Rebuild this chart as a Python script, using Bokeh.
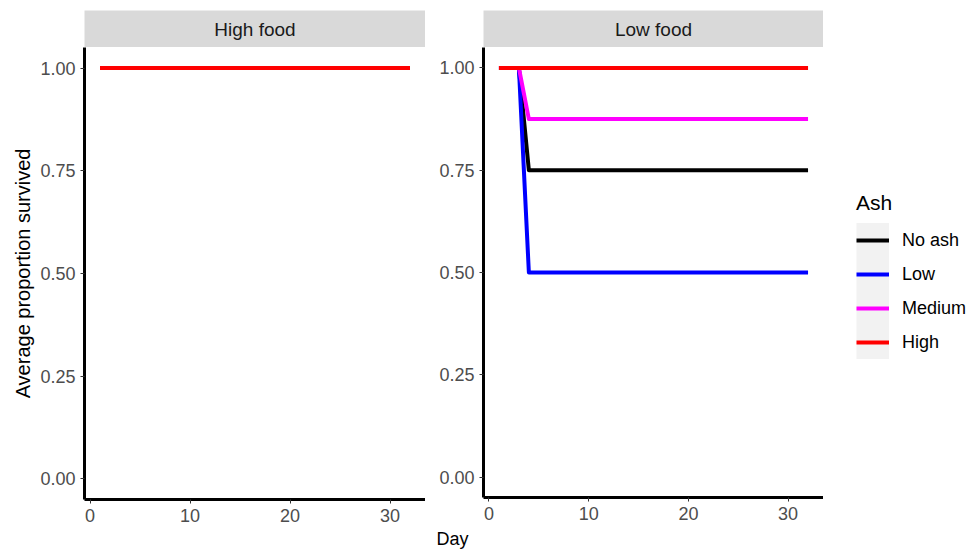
from bokeh.plotting import figure
from bokeh.layouts import row, column
from bokeh.models import Range1d, FixedTicker, Legend, LegendItem, Title, NumeralTickFormatter
from bokeh.core.properties import value
from bokeh.embed import file_html
from bokeh.resources import INLINE

# ---------------- data ----------------
facets = ["High food", "Low food"]
ash_levels = ["No ash", "Low", "Medium", "High"]
ash_colors = ["#000000", "#0000FF", "#FF00FF", "#FF0000"]

days = [1, 3, 4, 32]

high_food_no_ash = [1.0, 1.0, 1.0, 1.0]
high_food_low = [1.0, 1.0, 1.0, 1.0]
high_food_medium = [1.0, 1.0, 1.0, 1.0]
high_food_high = [1.0, 1.0, 1.0, 1.0]

low_food_no_ash = [1.0, 1.0, 0.75, 0.75]
low_food_low = [1.0, 1.0, 0.50, 0.50]
low_food_medium = [1.0, 1.0, 0.875, 0.875]
low_food_high = [1.0, 1.0, 1.0, 1.0]

x_ticks = [0, 10, 20, 30]
y_ticks = [0.0, 0.25, 0.50, 0.75, 1.0]

series = {
    "High food": [high_food_no_ash, high_food_low, high_food_medium, high_food_high],
    "Low food": [low_food_no_ash, low_food_low, low_food_medium, low_food_high],
}

FONT = "Liberation Sans"
TICK_SIZE = "18px"

# scale expansion like ggplot (5%)
xmin, xmax = min(days), max(days)
xpad = 0.05 * (xmax - xmin)
X0, X1 = xmin - xpad, xmax + xpad
Y0, Y1 = -0.05, 1.05


def make_strip(name, width, border_left):
    s = figure(width=width, height=47, output_backend="svg", toolbar_location=None,
               x_range=Range1d(0, 1), y_range=Range1d(0, 1),
               x_axis_location=None, y_axis_location=None,
               min_border_left=border_left, min_border_right=0,
               min_border_top=10, min_border_bottom=0)
    s.grid.visible = False
    s.outline_line_color = None
    s.background_fill_color = "#D9D9D9"
    s.border_fill_color = "white"
    s.text(x=[0.5], y=[0.5], text=[name],
           text_font=value(FONT), text_font_size="19px", text_color="#1A1A1A",
           text_align="center", text_baseline="middle")
    return s


def make_panel(name, width, border_left):
    p = figure(width=width, height=506, output_backend="svg", toolbar_location=None,
               x_range=Range1d(X0, X1), y_range=Range1d(Y0, Y1),
               min_border_left=border_left, min_border_right=0,
               min_border_top=0, min_border_bottom=54)
    p.grid.visible = False
    p.outline_line_color = None
    p.background_fill_color = "white"
    p.border_fill_color = "white"

    renderers = []
    for vals, col in zip(series[name], ash_colors):
        r = p.line(days, vals, line_color=col, line_width=4, line_join="round")
        renderers.append(r)

    for ax in (p.xaxis[0], p.yaxis[0]):
        ax.axis_line_width = 3
        ax.axis_line_color = "black"
        ax.major_tick_line_color = "#333333"
        ax.major_tick_line_width = 1
        ax.major_tick_out = 4
        ax.major_tick_in = 0
        ax.minor_tick_line_color = None
        ax.major_label_text_font = FONT
        ax.major_label_text_font_size = TICK_SIZE
        ax.major_label_text_color = "#4D4D4D"
        ax.major_label_standoff = 5
    p.xaxis.ticker = FixedTicker(ticks=x_ticks)
    p.yaxis.ticker = FixedTicker(ticks=y_ticks)
    p.yaxis.formatter = NumeralTickFormatter(format="0.00")
    return p, renderers


s1 = make_strip("High food", 425, 84)
p1, _ = make_panel("High food", 425, 84)
p1.yaxis.axis_label = "Average proportion survived"
p1.yaxis.axis_label_text_font = FONT
p1.yaxis.axis_label_text_font_size = "20px"
p1.yaxis.axis_label_text_font_style = "normal"
p1.yaxis.axis_label_text_color = "black"
p1.yaxis.axis_label_standoff = 3

s2 = make_strip("Low food", 398, 58)
p2, rends = make_panel("Low food", 398, 58)

# shared x-axis title, centred between the two panels
day_title = Title(text="Day", align="left", offset=-47, standoff=9,
                  text_font=FONT, text_font_size="18px", text_color="black",
                  text_font_style="normal")
p2.add_layout(day_title, "below")

# legend figure (proxy lines use the Low food data, kept outside the visible x range)
pl = figure(width=149, height=553, output_backend="svg", toolbar_location=None,
            x_range=Range1d(X1 + 100, X1 + 101), y_range=Range1d(Y0, Y1),
            x_axis_location=None, y_axis_location=None,
            min_border_left=0, min_border_right=0, min_border_top=47, min_border_bottom=54)
pl.grid.visible = False
pl.outline_line_color = None
key_bg = pl.line(days, low_food_high, line_color="#F2F2F2", line_width=36, line_cap="butt")
key_lines = [pl.line(days, vals, line_color=c, line_width=4)
             for vals, c in zip(series["Low food"], ash_colors)]
items = [LegendItem(label=lab, renderers=[key_bg, r]) for lab, r in zip(ash_levels, key_lines)]
legend = Legend(items=items, title="Ash", location=(33, 140), orientation="vertical",
                spacing=0, padding=0, margin=0, glyph_width=33, glyph_height=34,
                label_height=34, label_standoff=13,
                label_text_font=FONT, label_text_font_size="18px", label_text_color="black",
                title_text_font=FONT, title_text_font_size="21px", title_text_font_style="normal",
                title_text_color="black", title_standoff=8,
                border_line_color=None, background_fill_alpha=0)
pl.add_layout(legend)

layout = row(column(s1, p1), column(s2, p2), pl)
open("out.html", "w").write(file_html(layout, INLINE))
